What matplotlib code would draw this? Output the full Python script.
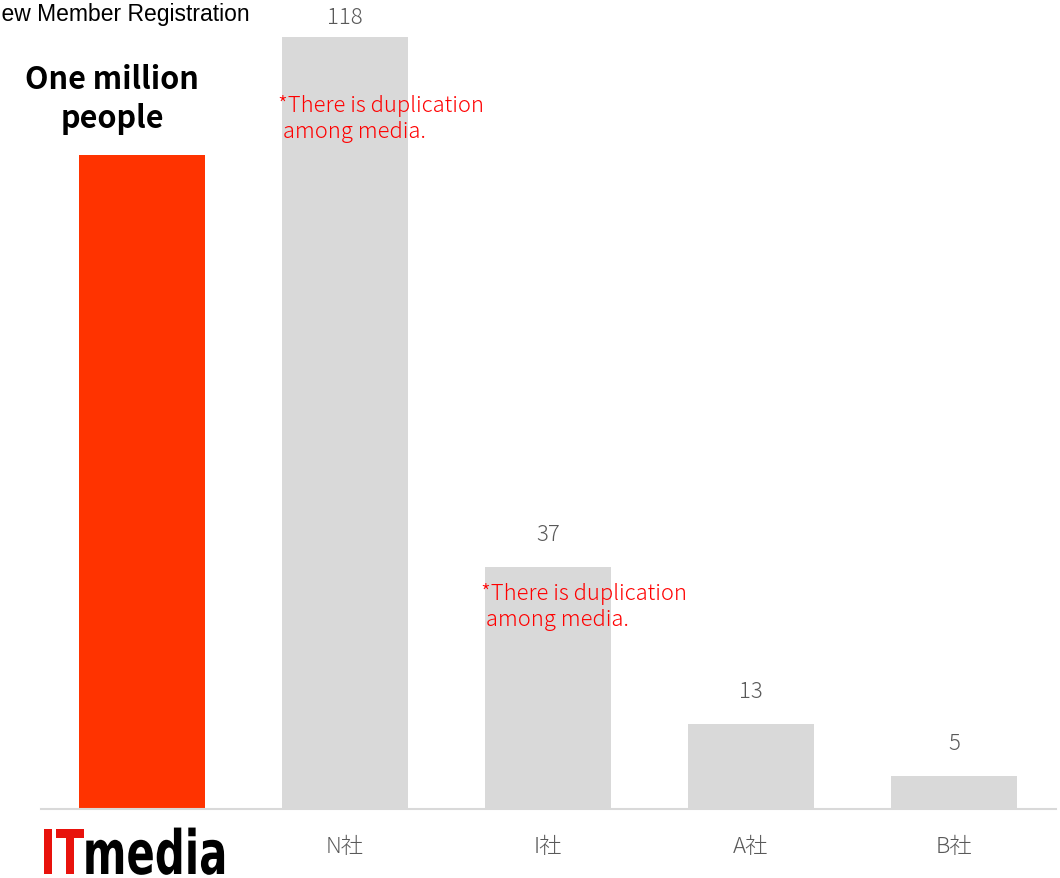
import matplotlib
matplotlib.use("Agg")
import matplotlib.pyplot as plt
from matplotlib.patheffects import AbstractPathEffect
from matplotlib.transforms import Affine2D

plt.rcParams['font.family'] = ['Noto Sans CJK JP', 'DejaVu Sans']

# ---- data ----
categories = ["ITmedia", "N社", "I社", "A社", "B社"]
values = [100, 118, 37, 13, 5]
bar_colors = ["#FF3300", "#D9D9D9", "#D9D9D9", "#D9D9D9", "#D9D9D9"]
title = "New Member Registration"
highlight_label = "One million\npeople"
note_text = "*There is duplication\n among media."
note_bars = [1, 2]
logo_parts = ["IT", "media"]
logo_colors = ["#E8120C", "black"]

W, H = 1060, 879
PT = 72 / 100  # points per pixel at dpi 100
fig = plt.figure(figsize=(W / 100, H / 100), dpi=100)
ax = fig.add_axes([40.5 / W, 69 / H, 1015 / W, 785 / H])
x = list(range(len(categories)))
bars = ax.bar(x, values, width=0.625, color=bar_colors, zorder=2)
ax.set_xlim(-0.5, len(categories) - 0.5)
ax.set_ylim(0, 120)

for s in ["top", "right", "left"]:
    ax.spines[s].set_visible(False)
ax.spines["bottom"].set_color("#D9D9D9")
ax.spines["bottom"].set_linewidth(1.5)
ax.set_yticks([])
ax.set_xticks(x)
ax.set_xticklabels([""] + categories[1:], fontsize=16, color="#595959",
                   fontweight="light")
ax.tick_params(axis="x", length=0, pad=18.5)

# value labels for the competitor bars
for i, v in enumerate(values):
    if i == 0:
        continue
    off = 20 if v == max(values) else 33
    ax.annotate(str(v), (i, v), xytext=(0, off * PT), textcoords="offset points",
                ha="center", va="center", fontsize=16, color="#595959",
                fontweight="light", annotation_clip=False)

# highlight label above the ITmedia bar
ax.annotate(highlight_label, (0, values[0]), xytext=(-30 * PT, 56.5 * PT),
            textcoords="offset points", ha="center", va="center",
            fontsize=22, fontweight="bold", color="black", linespacing=1.28,
            annotation_clip=False)

# red duplication notes
for i in note_bars:
    ax.annotate(note_text, (i - 0.33, values[i]),
                xytext=(0, -PT * (80.5 if i == 1 else 39)), textcoords="offset points",
                ha="left", va="center", fontsize=15.8, color="#FF0000",
                fontweight="light", linespacing=1.23, annotation_clip=False)

# title (partly cut off at the left edge as in the reference)
fig.text(250 / W, 1 - 14 / H, title, ha="right", va="center",
         fontsize=16.5, color="black", family=["Liberation Sans", "DejaVu Sans"])


# ITmedia logo as text, horizontally condensed with a path effect
class Squeeze(AbstractPathEffect):
    def __init__(self, sx, x0):
        super().__init__()
        self.sx = sx
        self.x0 = x0

    def draw_path(self, renderer, gc, tpath, affine, rgbFace=None):
        aff = affine + Affine2D().translate(-self.x0, 0).scale(self.sx, 1).translate(self.x0, 0)
        renderer.draw_path(gc, tpath, aff, rgbFace)


x0 = 40
sx = 0.685
logo_base = 1 - 875 / H
cur = x0
for part, col in zip(logo_parts, logo_colors):
    t = fig.text(cur / W, logo_base, part, ha="left", va="baseline", fontsize=44,
                 fontweight="bold", color=col, family=["DejaVu Sans"])
    fig.canvas.draw()
    bb = t.get_window_extent()
    t.set_path_effects([Squeeze(sx, x0)])
    cur = bb.x1 - 2

fig.savefig("out.png", dpi=100)
